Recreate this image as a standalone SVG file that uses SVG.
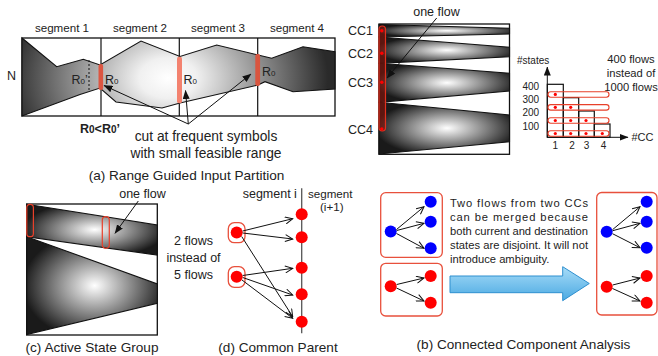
<svg xmlns="http://www.w3.org/2000/svg" width="658" height="356" viewBox="0 0 658 356">
<style>
text{font-family:"Liberation Sans",Arial,sans-serif;fill:#222}
.seg{font-size:11.6px}
.cap{font-size:13.6px;text-anchor:middle}
.lbl{font-size:12.5px}
.sm{font-size:10px}
.ln{stroke:#111;stroke-width:1.2;fill:none}
.box{fill:#fff;stroke:#111;stroke-width:1.3}
.arr{stroke:#111;stroke-width:1;fill:none;marker-end:url(#fa)}
.oarr{stroke:#111;stroke-width:1;fill:none;marker-end:url(#oa)}
.rd{fill:#ff0000}
.bd{fill:#0000ff}
.rbox{fill:none;stroke:#e8503c;stroke-width:1.3}
.wedge{stroke:#111;stroke-width:1.1}
</style>
<defs>
<marker id="fa" markerWidth="9" markerHeight="7" refX="8.5" refY="3.5" orient="auto" markerUnits="userSpaceOnUse"><path d="M0,0 L9,3.5 L0,7 z" fill="#111"/></marker>
<marker id="oa" markerWidth="9" markerHeight="8" refX="8" refY="4" orient="auto" markerUnits="userSpaceOnUse"><path d="M0.5,0.5 L8,4 L0.5,7.5" fill="none" stroke="#111" stroke-width="1"/></marker>
<radialGradient id="ga" gradientUnits="userSpaceOnUse" cx="168" cy="78" r="160" gradientTransform="translate(168 78) scale(1 0.7) translate(-168 -78)">
<stop offset="0" stop-color="#ffffff"/><stop offset="0.18" stop-color="#f0f0f0"/><stop offset="1" stop-color="#2a2a2a"/></radialGradient>
<radialGradient id="gw" cx="0.52" cy="0.5" r="0.55">
<stop offset="0" stop-color="#ffffff"/><stop offset="1" stop-color="#1a1a1a"/></radialGradient>
<linearGradient id="gb" x1="0" y1="0" x2="0" y2="1">
<stop offset="0" stop-color="#a8dcf8"/><stop offset="1" stop-color="#4aa9e2"/></linearGradient>
</defs>

<g id="panel-a">
<text class="seg" x="62" y="32" text-anchor="middle">segment 1</text>
<text class="seg" x="140" y="32" text-anchor="middle">segment 2</text>
<text class="seg" x="218" y="32" text-anchor="middle">segment 3</text>
<text class="seg" x="297" y="32" text-anchor="middle">segment 4</text>
<text class="lbl" x="7" y="80">N</text>
<rect class="box" x="22" y="38" width="313" height="78"/>
<polygon points="22,38 56.7,66.7 83.3,59.3 100,65 141,41 180,56.5 216.7,45 258,55 271.7,58.3 303,46.7 335,51.7 335,89 293,91.7 265,81.7 258,85 180,103 162,108 116,102 100,88 80,94.5 22,116" fill="url(#ga)" stroke="#111" stroke-width="1.1"/>
<line class="ln" x1="101" y1="38" x2="101" y2="116"/>
<line class="ln" x1="179.3" y1="38" x2="179.3" y2="116"/>
<line class="ln" x1="257.7" y1="38" x2="257.7" y2="116"/>
<line x1="89" y1="60" x2="89" y2="92" stroke="#111" stroke-width="1" stroke-dasharray="2,2"/>
<rect x="98.5" y="64" width="4.6" height="26" rx="2" fill="#dc5642"/>
<rect x="177" y="56.7" width="5" height="46.6" rx="2" fill="#f3826f"/>
<rect x="255.3" y="54" width="4.8" height="32" rx="2" fill="#d9553f"/>
<text class="lbl" x="71.5" y="83.5">R<tspan font-size="8">0</tspan>’</text>
<text class="lbl" x="105" y="83.5">R<tspan font-size="8">0</tspan></text>
<text class="lbl" x="183.5" y="83.5">R<tspan font-size="8">0</tspan></text>
<text class="lbl" x="262" y="76">R<tspan font-size="8">0</tspan></text>
<text x="80" y="133" font-size="12.5" font-weight="bold">R<tspan font-size="10">0</tspan>&lt;R<tspan font-size="10">0</tspan>’</text>
<text x="206" y="141" font-size="13.8" text-anchor="middle">cut at frequent symbols</text>
<text x="206" y="158" font-size="13.8" text-anchor="middle">with small feasible range</text>
<text class="cap" x="186.5" y="180">(a) Range Guided Input Partition</text>
</g>

<g id="panel-b-top">
<rect class="box" x="379" y="24" width="130.5" height="130.3"/>
<polygon class="wedge" points="379,24.5 509.5,28.3 509.5,34 379,37" fill="url(#gw)"/>
<polygon class="wedge" points="379,37 509.5,47.3 509.5,56.7 379,63.3" fill="url(#gw)"/>
<polygon class="wedge" points="379,63.3 509.5,73.3 509.5,91 379,102.3" fill="url(#gw)"/>
<polygon class="wedge" points="379,102.3 509.5,115 509.5,141.7 379,154" fill="url(#gw)"/>
<rect x="379" y="26" width="6.5" height="105" rx="3.2" fill="rgba(150,20,10,0.55)" stroke="#e3301e" stroke-width="1.2"/>
<circle class="rd" cx="381.8" cy="30.7" r="1.7"/>
<circle class="rd" cx="381.8" cy="53.3" r="1.7"/>
<circle class="rd" cx="381.8" cy="82.3" r="1.7"/>
<circle class="rd" cx="381.8" cy="129" r="1.7"/>
<text class="lbl" x="348" y="35">CC1</text>
<text class="lbl" x="348" y="57.5">CC2</text>
<text class="lbl" x="348" y="86.5">CC3</text>
<text class="lbl" x="348" y="133.5">CC4</text>
<text class="lbl" x="436.5" y="16" text-anchor="middle">one flow</text>
<line class="arr" x1="436.7" y1="18" x2="387" y2="78"/>
</g>

<g id="panel-b-chart">
<text class="sm" x="517" y="63.5">#states</text>
<line class="arr" x1="547.3" y1="137.3" x2="547.3" y2="67"/>
<line class="arr" x1="547.3" y1="137.3" x2="628" y2="137.3"/>
<rect x="547.3" y="84.3" width="16" height="53" fill="none" stroke="#111" stroke-width="1.2"/>
<rect x="563.3" y="97.7" width="15.4" height="39.6" fill="none" stroke="#111" stroke-width="1.2"/>
<rect x="578.7" y="111" width="15.6" height="26.3" fill="none" stroke="#111" stroke-width="1.2"/>
<rect x="594.3" y="124" width="15.7" height="13.3" fill="none" stroke="#111" stroke-width="1.2"/>
<rect x="548" y="91.7" width="61" height="5.5" rx="2.7" fill="none" stroke="#e8402a" stroke-width="1.1"/>
<rect x="548" y="104.6" width="61" height="5.5" rx="2.7" fill="none" stroke="#e8402a" stroke-width="1.1"/>
<rect x="548" y="117.8" width="61" height="5.5" rx="2.7" fill="none" stroke="#e8402a" stroke-width="1.1"/>
<rect x="548" y="130.8" width="61" height="5.5" rx="2.7" fill="none" stroke="#e8402a" stroke-width="1.1"/>
<circle class="rd" cx="555.3" cy="94.4" r="1.6"/>
<circle class="rd" cx="555.3" cy="107.3" r="1.6"/>
<circle class="rd" cx="570.7" cy="107.3" r="1.6"/>
<circle class="rd" cx="555.3" cy="120.5" r="1.6"/>
<circle class="rd" cx="570.7" cy="120.5" r="1.6"/>
<circle class="rd" cx="586" cy="120.5" r="1.6"/>
<circle class="rd" cx="555.3" cy="133.5" r="1.6"/>
<circle class="rd" cx="570.7" cy="133.5" r="1.6"/>
<circle class="rd" cx="586" cy="133.5" r="1.6"/>
<circle class="rd" cx="602.3" cy="133.5" r="1.6"/>
<text class="sm" x="522.5" y="89.5">400</text>
<text class="sm" x="522.5" y="102.8">300</text>
<text class="sm" x="522.5" y="116.2">200</text>
<text class="sm" x="522.5" y="129.5">100</text>
<text class="sm" x="555.3" y="148.5" text-anchor="middle">1</text>
<text class="sm" x="572" y="148.5" text-anchor="middle">2</text>
<text class="sm" x="586.5" y="148.5" text-anchor="middle">3</text>
<text class="sm" x="603.5" y="148.5" text-anchor="middle">4</text>
<text x="631.5" y="141" font-size="11">#CC</text>
<text x="631" y="63" font-size="11.2" text-anchor="middle">400 flows</text>
<text x="631" y="76.7" font-size="11.2" text-anchor="middle">instead of</text>
<text x="631" y="90.7" font-size="11.2" text-anchor="middle">1000 flows</text>
</g>

<g id="panel-c">
<rect class="box" x="26.7" y="204" width="130.6" height="131"/>
<polygon class="wedge" points="26.7,204.3 157.3,225 157.3,255 26.7,236.7" fill="url(#gw)"/>
<polygon class="wedge" points="26.7,236.7 157.3,284 157.3,303.3 26.7,334.5" fill="url(#gw)"/>
<rect x="26.8" y="204.3" width="6.6" height="32.4" rx="3.3" fill="none" stroke="#e8402a" stroke-width="1.2"/>
<rect x="102.3" y="216.7" width="7" height="31.6" rx="3.5" fill="none" stroke="#e8402a" stroke-width="1.2"/>
<text class="lbl" x="142.5" y="197.5" text-anchor="middle">one flow</text>
<line class="arr" x1="138.3" y1="201" x2="115" y2="233.3"/>
<text class="cap" x="92" y="351.5">(c) Active State Group</text>
</g>

<g id="panel-d">
<line x1="301.7" y1="188.3" x2="301.7" y2="333.3" stroke="#555" stroke-width="1.3"/>
<text class="lbl" x="242.7" y="197.5">segment i</text>
<text class="seg" x="308" y="197.5">segment</text>
<text class="seg" x="320" y="211">(i+1)</text>
<rect x="228.3" y="222.7" width="16.7" height="20" rx="6" class="rbox"/>
<rect x="228.3" y="266.7" width="16.7" height="20.6" rx="6" class="rbox"/>
<circle class="rd" cx="236.7" cy="232.5" r="6"/>
<circle class="rd" cx="236.7" cy="276.8" r="6"/>
<circle class="rd" cx="301.7" cy="214.3" r="6"/>
<circle class="rd" cx="301.7" cy="237.3" r="6"/>
<circle class="rd" cx="301.7" cy="267.7" r="6"/>
<circle class="rd" cx="301.7" cy="294.3" r="6"/>
<circle class="rd" cx="301.7" cy="321.7" r="6"/>
<text class="lbl" x="193.5" y="244.5" text-anchor="middle">2 flows</text>
<text class="lbl" x="193.5" y="261.8" text-anchor="middle">instead of</text>
<text class="lbl" x="193.5" y="278.5" text-anchor="middle">5 flows</text>
<text class="cap" x="278" y="351.5">(d) Common Parent</text>
</g>

<g id="panel-b-bottom">
<rect x="380.7" y="192.7" width="61.6" height="64.6" rx="5" class="rbox"/>
<rect x="380.7" y="263.3" width="61.6" height="52.7" rx="5" class="rbox"/>
<rect x="596.7" y="192.5" width="60.3" height="122.5" rx="5" class="rbox"/>
<circle class="bd" cx="390.7" cy="231.5" r="6"/>
<circle class="bd" cx="430.7" cy="201.7" r="6"/>
<circle class="bd" cx="430.7" cy="221.7" r="6"/>
<circle class="bd" cx="430.7" cy="248.3" r="6"/>
<circle class="rd" cx="390.7" cy="286.3" r="6"/>
<circle class="rd" cx="430.7" cy="276" r="6"/>
<circle class="rd" cx="430.7" cy="302.7" r="6"/>
<circle class="bd" cx="606.7" cy="231.7" r="6"/>
<circle class="bd" cx="646.7" cy="201.7" r="6"/>
<circle class="bd" cx="646.7" cy="221.7" r="6"/>
<circle class="bd" cx="646.7" cy="247.7" r="6"/>
<circle class="rd" cx="606.7" cy="286.7" r="6"/>
<circle class="rd" cx="646.7" cy="276" r="6"/>
<circle class="rd" cx="646.7" cy="302.7" r="6"/>
<text x="450" y="206.5" font-size="11.2" textLength="138" lengthAdjust="spacing">Two flows from two CCs</text>
<text x="450" y="220.7" font-size="11.2" textLength="138" lengthAdjust="spacing">can be merged because</text>
<text x="450" y="234.9" font-size="11.2" textLength="138" lengthAdjust="spacing">both current and destination</text>
<text x="450" y="249.1" font-size="11.2" textLength="138" lengthAdjust="spacing">states are disjoint. It will not</text>
<text x="450" y="263.3" font-size="11.2">introduce ambiguity.</text>
<polygon points="450,276 562.7,276 562.7,266.7 589.3,283.5 562.7,300.7 562.7,292.7 450,292.7" fill="url(#gb)" stroke="#2e8fcf" stroke-width="1"/>
<text class="cap" x="523.5" y="349">(b) Connected Component Analysis</text>
</g>

<g id="connectors">
<line class="arr" x1="188.3" y1="124" x2="104" y2="85.5"/>
<line class="arr" x1="188.3" y1="124" x2="185.5" y2="90.5"/>
<line class="arr" x1="188.3" y1="124" x2="251" y2="74"/>
<line class="oarr" x1="242.7" y1="231" x2="292.7" y2="218.7"/>
<line class="oarr" x1="242.7" y1="233" x2="292.7" y2="239"/>
<line class="oarr" x1="241.7" y1="236.5" x2="292.7" y2="316.7"/>
<line class="oarr" x1="242.7" y1="275.5" x2="292.7" y2="268.3"/>
<line class="oarr" x1="242.7" y1="277.5" x2="292.7" y2="295"/>
<line class="oarr" x1="242" y1="280" x2="292.7" y2="318.3"/>
<line class="oarr" x1="396.5" y1="229.5" x2="424" y2="206.7"/>
<line class="oarr" x1="396.7" y1="230.5" x2="424" y2="223.3"/>
<line class="oarr" x1="396.5" y1="233.5" x2="424" y2="248.3"/>
<line class="oarr" x1="396.7" y1="284.5" x2="424" y2="278"/>
<line class="oarr" x1="396.5" y1="288" x2="424" y2="301"/>
<line class="oarr" x1="612.5" y1="229.7" x2="640" y2="206.7"/>
<line class="oarr" x1="612.7" y1="230.7" x2="640" y2="223.3"/>
<line class="oarr" x1="612.5" y1="233.7" x2="640" y2="247.7"/>
<line class="oarr" x1="612.7" y1="285" x2="640" y2="278"/>
<line class="oarr" x1="612.5" y1="288.5" x2="640" y2="301"/>
</g>
</svg>
